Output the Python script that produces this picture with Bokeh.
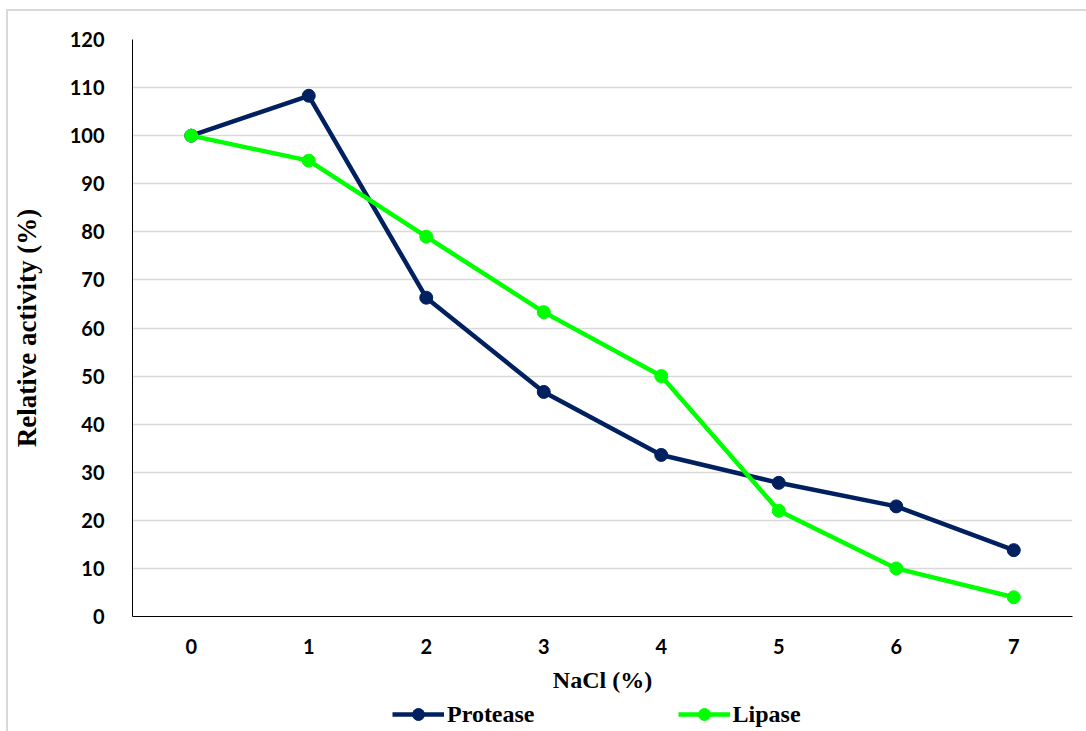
from bokeh.plotting import figure
from bokeh.layouts import column
from bokeh.models import Range1d, FixedTicker, Legend, LegendItem
from bokeh.embed import file_html
from bokeh.resources import INLINE

nacl = [0, 1, 2, 3, 4, 5, 6, 7]
protease = [100, 108.3, 66.3, 46.7, 33.6, 27.8, 22.9, 13.8]
lipase = [100, 94.8, 79.0, 63.3, 50.0, 22.0, 10.0, 4.0]
y_ticks = [0, 10, 20, 30, 40, 50, 60, 70, 80, 90, 100, 110, 120]
series_names = ["Protease", "Lipase"]

PROT = "#002060"
LIP = "#00FF00"

p = figure(width=1078, height=686, output_backend="svg", toolbar_location=None,
           x_range=Range1d(-0.5, 7.5), y_range=Range1d(0, 120),
           min_border_left=123, min_border_right=14, min_border_top=28, min_border_bottom=81)
p.outline_line_color = None
p.background_fill_color = "white"
p.border_fill_color = "white"

p.xgrid.grid_line_color = None
p.ygrid.grid_line_color = "#d9d9d9"
p.ygrid.grid_line_width = 1.5

p.xaxis.ticker = FixedTicker(ticks=nacl)
p.yaxis.ticker = FixedTicker(ticks=y_ticks)
for ax in (p.xaxis[0], p.yaxis[0]):
    ax.major_tick_line_color = None
    ax.minor_tick_line_color = None
    ax.axis_line_color = "black"
    ax.axis_line_width = 1
    ax.major_label_text_font = "Lato"
    ax.major_label_text_font_style = "bold"
    ax.major_label_text_font_size = "20px"
    ax.major_label_text_color = "black"
    ax.axis_label_text_font = "Liberation Serif"
    ax.axis_label_text_font_style = "bold"
    ax.axis_label_text_color = "black"

p.xaxis.axis_label = "NaCl (%)"
p.yaxis.axis_label = "Relative activity (%)"
p.xaxis.axis_label_text_font_size = "24px"
p.yaxis.axis_label_text_font_size = "27px"
p.xaxis.major_label_standoff = 16
p.xaxis.axis_label_standoff = 10
p.yaxis.major_label_standoff = 22
p.yaxis.axis_label_standoff = 25

p.line(nacl, protease, line_color=PROT, line_width=4.5)
p.scatter(nacl, protease, size=13, fill_color=PROT, line_color=PROT)
p.line(nacl, lipase, line_color=LIP, line_width=4.5)
p.scatter(nacl, lipase, size=13, fill_color=LIP, line_color=LIP)

# legend strip below the chart (its own renderers lie outside its view)
lf = figure(width=1078, height=40, output_backend="svg", toolbar_location=None,
            x_range=Range1d(100, 101), y_range=Range1d(100, 101),
            min_border=0, min_border_left=0, min_border_right=0,
            min_border_top=0, min_border_bottom=0)
lf.axis.visible = False
lf.grid.visible = False
lf.outline_line_color = None
lf.background_fill_color = "white"
lf.border_fill_color = "white"
a1 = lf.line(nacl, protease, line_color=PROT, line_width=4.5)
b1 = lf.scatter(nacl, protease, size=13, fill_color=PROT, line_color=PROT)
a2 = lf.line(nacl, lipase, line_color=LIP, line_width=4.5)
b2 = lf.scatter(nacl, lipase, size=13, fill_color=LIP, line_color=LIP)

legend = Legend(items=[LegendItem(label=series_names[0], renderers=[a1, b1]),
                       LegendItem(label=series_names[1], renderers=[a2, b2])],
                orientation="horizontal", location=(260, 8),
                label_text_font="Liberation Serif", label_text_font_style="bold",
                label_text_font_size="24px", label_text_color="black",
                glyph_width=52, glyph_height=30, label_standoff=3, spacing=143,
                border_line_color=None, background_fill_alpha=0,
                padding=2, margin=0)
lf.add_layout(legend, "center")

layout = column(p, lf, spacing=0)
layout.styles = {"margin-left": "6px", "margin-top": "9px",
                 "border-left": "2px solid #d9d9d9", "border-top": "2px solid #d9d9d9"}

open("out.html", "w").write(file_html(layout, INLINE))
